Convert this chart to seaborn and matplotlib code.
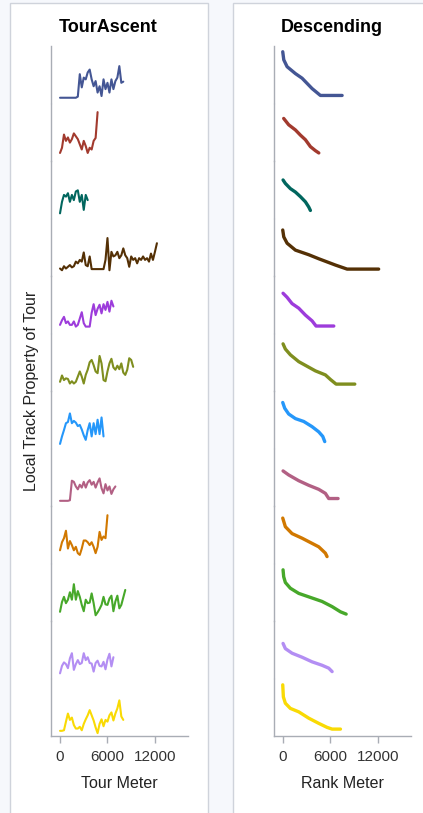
import numpy as np
import matplotlib
matplotlib.use("Agg")
import matplotlib.pyplot as plt
from matplotlib.patches import Rectangle
import seaborn as sns

# Local track property, each tour scaled to its own row (0-100), sampled every 250 m
STEP = 250
tour_names = ["T1", "T2", "T3", "T4", "T5", "T6", "T7", "T8", "T9", "T10", "T11", "T12"]
colors = ["#445694", "#A23A2E", "#01665E", "#543005", "#9D3CDB", "#7F8E1F",
          "#2597FA", "#B26084", "#D17800", "#47A82A", "#B38EF3", "#F9DA04"]

asc_blue = [10, 10, 10, 10, 10, 10, 10, 10, 10, 12, 51, 28, 45, 42, 54, 59, 42, 30, 39, 19, 30,
            13, 42, 25, 36, 19, 42, 25, 39, 45, 65, 36, 38]
asc_red = [14, 23, 46, 35, 41, 32, 38, 48, 43, 38, 29, 20, 35, 26, 14, 23, 20, 35, 40, 85]
asc_teal = [9, 29, 41, 38, 44, 29, 41, 32, 47, 49, 29, 41, 15, 41, 32]
asc_brown = [13, 10, 17, 13, 16, 19, 15, 17, 25, 22, 28, 25, 41, 19, 17, 34, 12, 12, 12, 12,
             12, 12, 12, 28, 66, 10, 42, 34, 36, 42, 31, 36, 48, 36, 31, 16, 34, 28, 31, 22,
             31, 28, 34, 28, 31, 25, 39, 28, 42, 57]
asc_purple = [15, 23, 29, 18, 21, 15, 15, 21, 12, 15, 26, 37, 18, 12, 12, 12, 36, 51, 32, 43,
              50, 35, 51, 41, 55, 38, 57, 47]
asc_olive = [16, 27, 19, 22, 21, 13, 17, 13, 16, 25, 34, 25, 13, 28, 37, 50, 54, 45, 34, 31,
             61, 48, 19, 17, 34, 48, 56, 41, 37, 44, 38, 48, 32, 28, 37, 57, 54, 42]
asc_lightblue = [8, 21, 32, 44, 46, 61, 44, 48, 45, 39, 41, 33, 23, 15, 32, 44, 21, 44, 25, 50,
                 25, 54, 21]
asc_pink = [9, 9, 9, 9, 9, 10, 44, 42, 34, 29, 37, 32, 42, 32, 41, 45, 37, 42, 32, 41, 48, 31,
            22, 38, 27, 34, 21, 29, 34]
asc_orange = [23, 37, 44, 57, 26, 39, 32, 23, 29, 18, 15, 26, 40, 40, 37, 32, 37, 29, 18, 29,
              55, 41, 47, 44, 84]
asc_green = [16, 33, 42, 31, 37, 50, 37, 64, 37, 52, 42, 28, 17, 37, 31, 32, 48, 31, 10, 15,
             21, 28, 42, 29, 28, 39, 44, 17, 34, 44, 22, 28, 41, 54]
asc_lavender = [9, 22, 28, 25, 18, 35, 44, 15, 25, 32, 25, 27, 44, 32, 37, 27, 26, 12, 27, 31,
                22, 21, 29, 16, 33, 43, 21, 37]
asc_yellow = [9, 9, 10, 25, 39, 28, 32, 19, 13, 13, 16, 10, 21, 29, 36, 45, 36, 27, 15, 5, 21,
              29, 17, 28, 25, 36, 41, 27, 39, 48, 62, 34, 28]

ascent = [asc_blue, asc_red, asc_teal, asc_brown, asc_purple, asc_olive,
          asc_lightblue, asc_pink, asc_orange, asc_green, asc_lavender, asc_yellow]

# Descending (ranked) curves: rank meter / value
desc_x = [
    [0, 130, 550, 1600, 2440, 3700, 4750, 7490],
    [120, 750, 1600, 2230, 2860, 3490, 4120, 4550],
    [40, 330, 960, 1600, 2230, 2860, 3280, 3490],
    [0, 130, 550, 1600, 3280, 4540, 5500, 6650, 8120, 12100],
    [40, 545, 1175, 2020, 2860, 3700, 4200, 6440],
    [40, 330, 960, 2020, 3070, 4120, 5380, 6020, 6730, 9090],
    [0, 250, 750, 1600, 2650, 3700, 4540, 5050, 5300],
    [40, 750, 2020, 3280, 4540, 5380, 5800, 6980],
    [0, 330, 1175, 2440, 2860, 4540, 5380, 5590],
    [40, 120, 330, 960, 2020, 3280, 4960, 6230, 7280, 8000],
    [40, 330, 1175, 2440, 3700, 4960, 5800, 6230],
    [0, 80, 330, 960, 2020, 3280, 4540, 5590, 6230, 7280],
]
desc_y = [
    [90, 76, 64, 52, 44, 26, 14, 14],
    [74, 63, 54, 45, 37, 25, 18, 14],
    [67, 61, 52, 46, 38, 29, 20, 14],
    [80, 68, 57, 45, 37, 30, 25, 19, 12, 12],
    [70, 63, 52, 44, 32, 22, 13, 13],
    [82, 73, 63, 51, 43, 35, 28, 20, 12, 12],
    [80, 70, 60, 52, 47, 38, 29, 21, 12],
    [61, 54, 44, 36, 29, 22, 13, 13],
    [79, 64, 52, 44, 41, 29, 18, 12],
    [89, 77, 67, 57, 48, 42, 34, 25, 16, 12],
    [61, 52, 44, 37, 29, 23, 18, 12],
    [89, 68, 57, 48, 42, 31, 22, 15, 12, 12],
]

W, H = 423, 813
BG = "#f6f8fc"
SPINE = "#a9adb5"

sns.set_theme(style="white")
plt.rcParams["font.family"] = ["Liberation Sans", "DejaVu Sans"]

fig = plt.figure(figsize=(W / 100, H / 100), dpi=100, facecolor=BG)

# panel frames, kept behind the axes
for x0, x1 in [(10, 208), (232.5, 440)]:
    fig.patches.append(Rectangle((x0 / W, -0.02), (x1 - x0) / W, (H - 3) / H + 0.02,
                                 transform=fig.transFigure, facecolor="white",
                                 edgecolor="#cfd3db", linewidth=1, zorder=-5))

top_px, bot_px = 46, 736
row_h = (bot_px - top_px) / 12
xlim = (-1140, 16180)


def draw_panel(left_px, right_px, series_x, series_y, lw):
    for i in range(12):
        y0 = bot_px - (i + 1) * row_h
        ax = fig.add_axes([left_px / W, 1 - (y0 + row_h) / H,
                           (right_px - left_px) / W, row_h / H])
        ax.set_zorder(2)
        ax.patch.set_alpha(0)
        sns.lineplot(x=series_x[i], y=series_y[i], ax=ax, color=colors[11 - i],
                     linewidth=lw, legend=False, solid_capstyle="round",
                     solid_joinstyle="round")
        ax.set_xlim(*xlim)
        ax.set_ylim(0, 100)
        ax.set_xlabel("")
        ax.set_ylabel("")
        ax.set_yticks([])
        for s in ["top", "right"]:
            ax.spines[s].set_visible(False)
        ax.spines["left"].set_color(SPINE)
        ax.spines["left"].set_linewidth(1)
        if i == 0:
            ax.spines["left"].set_bounds(0, 99.2)
            ax.spines["bottom"].set_color(SPINE)
            ax.spines["bottom"].set_linewidth(1)
            ax.set_xticks([0, 6000, 12000])
            ax.set_xticklabels(["0", "6000", "12000"])
            ax.tick_params(axis="x", length=5, width=1, color=SPINE, pad=5,
                           labelsize=11, labelcolor="#333333", bottom=True)
        else:
            ax.spines["left"].set_bounds(0.8, 99.2)
            ax.spines["bottom"].set_visible(False)
            ax.set_xticks([])


# rows are drawn bottom-up, so reverse the series order
asc_x = [list(np.arange(len(v)) * STEP) for v in ascent[::-1]]
asc_y = ascent[::-1]
draw_panel(51, 188, asc_x, asc_y, 1.5)
draw_panel(273.7, 411, desc_x[::-1], desc_y[::-1], 2.4)

fig.text(108.5 / W, 1 - 27 / H, "TourAscent", ha="center", va="center",
         fontsize=13, fontweight="bold", color="black")
fig.text(332 / W, 1 - 27 / H, "Descending", ha="center", va="center",
         fontsize=13, fontweight="bold", color="black")
fig.text(119.5 / W, 1 - 783 / H, "Tour Meter", ha="center", va="center",
         fontsize=11.5, color="#222222")
fig.text(342.4 / W, 1 - 783 / H, "Rank Meter", ha="center", va="center",
         fontsize=11.5, color="#222222")
fig.text(32 / W, 1 - 391 / H, "Local Track Property of Tour", ha="center", va="center",
         rotation=90, fontsize=11.5, color="#222222")

fig.savefig("out.png", dpi=100, facecolor=fig.get_facecolor())
